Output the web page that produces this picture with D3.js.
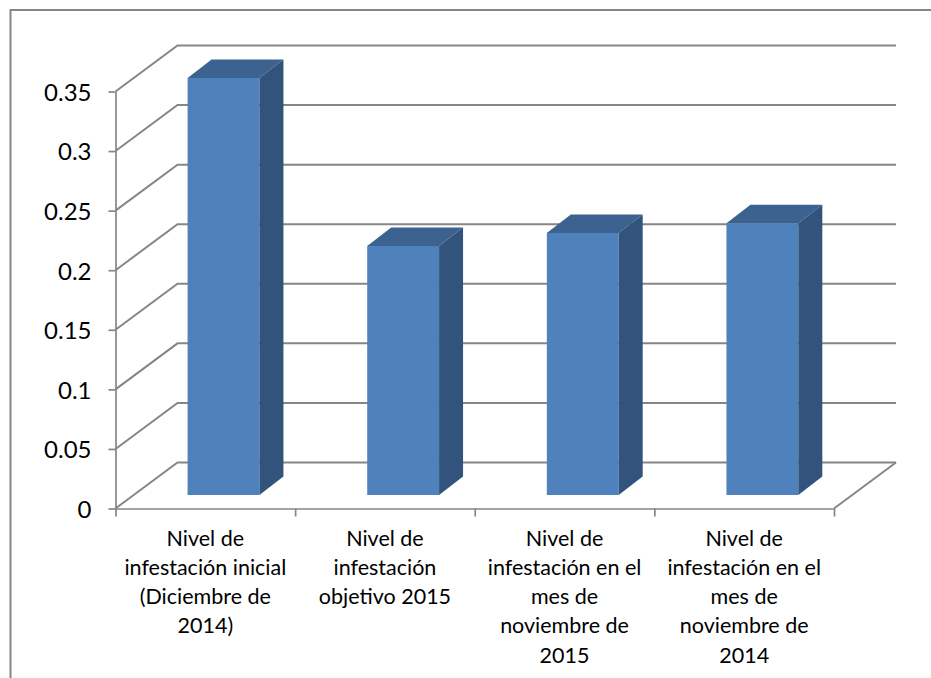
<!DOCTYPE html>
<html>
<head>
<meta charset="utf-8">
<script src="https://cdnjs.cloudflare.com/ajax/libs/d3/7.8.5/d3.min.js"></script>
<style>
  html, body { margin: 0; padding: 0; background: #fff; }
  svg { display: block; }
  text { font-family: Lato, "Open Sans", sans-serif; fill: #000; }
  .axis path, .axis line { stroke: #868686; stroke-width: 1.7; }
</style>
</head>
<body>
<svg id="chart" width="931" height="678"></svg>
<script>
// data
let categories = ["inicial", "objetivo", "nov2015", "nov2014"];
let values = [0.35, 0.209, 0.22, 0.228];
let tickValues = [0, 0.05, 0.1, 0.15, 0.2, 0.25, 0.3, 0.35];
let tickLabels = ["0", "0.05", "0.1", "0.15", "0.2", "0.25", "0.3", "0.35"];
let categoryLabels = [
  ["Nivel de", "infestación inicial", "(Diciembre de", "2014)"],
  ["Nivel de", "infestación", "objetivo 2015"],
  ["Nivel de", "infestación en el", "mes de", "noviembre de", "2015"],
  ["Nivel de", "infestación en el", "mes de", "noviembre de", "2014"]
];

// layout of the 3d box
let x0 = 115.5, x1 = 834, y0 = 508.5, yTop = 91.5;
let depthX = 62, depthY = 46;       // floor depth
let barDX = 24, barDY = 18.5;       // bar depth
let barLift = 13.5;                 // bar front above the front axis
let barShift = barLift * depthX / depthY;

let svg = d3.select("#chart");

// frame, runs off the picture on the right and at the bottom
svg.append("rect")
  .attr("x", 10.5).attr("y", 10).attr("width", 1000).attr("height", 1000)
  .attr("fill", "none").attr("stroke", "#868686").attr("stroke-width", 2);

let y = d3.scaleLinear().domain([0, 0.35]).range([y0, yTop]);
let x = d3.scaleBand().domain(categories).range([x0, x1]).paddingInner(0).paddingOuter(0);
let barWidth = x.bandwidth() / 2.5;

// walls
let grid = svg.append("g").attr("fill", "none").attr("stroke", "#868686").attr("stroke-width", 2);
grid.selectAll("path").data(tickValues).join("path")
  .attr("d", function (d) {
    let p = d3.path();
    p.moveTo(x0, y(d));
    p.lineTo(x0 + depthX, y(d) - depthY);
    p.lineTo(x1 + depthX, y(d) - depthY);
    return p.toString();
  });
// right edge of the floor
grid.append("line")
  .attr("x1", x1).attr("y1", y0)
  .attr("x2", x1 + depthX).attr("y2", y0 - depthY);

// axes
let yAxis = d3.axisLeft(y).tickValues(tickValues).tickSize(7).tickSizeOuter(0)
  .tickFormat(function (d, i) { return tickLabels[i]; });
let gy = svg.append("g").attr("class", "axis").attr("transform", "translate(" + x0 + ",0)").call(yAxis);
gy.selectAll("text").attr("x", -24).attr("dy", "0.37em").style("font-size", "24px");

let xTicks = d3.range(categories.length + 1).map(function (i) { return x0 + i * x.step(); });
let xAxis = d3.axisBottom(d3.scaleLinear().domain([x0, x1]).range([x0, x1]))
  .tickValues(xTicks).tickSize(8).tickSizeOuter(0).tickFormat("");
svg.append("g").attr("class", "axis").attr("transform", "translate(0," + y0 + ")").call(xAxis);

// bars
let bars = svg.append("g").selectAll("g").data(values).join("g");
function barLeft(i) {
  return x(categories[i]) + barShift + (x.bandwidth() - barWidth) / 2;
}
function barTop(d) { return y(d) - barLift; }
let barBottom = y(0) - barLift;

bars.append("rect")
  .attr("x", function (d, i) { return barLeft(i); })
  .attr("y", barTop)
  .attr("width", barWidth)
  .attr("height", function (d) { return barBottom - barTop(d); })
  .attr("fill", "#4F81BD");
bars.append("path")
  .attr("fill", "#3C6390")
  .attr("d", function (d, i) {
    let l = barLeft(i), t = barTop(d);
    return "M" + [l, t] + "L" + [l + barDX, t - barDY] + "L" + [l + barWidth + barDX, t - barDY] + "L" + [l + barWidth, t] + "Z";
  });
bars.append("path")
  .attr("fill", "#32547C")
  .attr("d", function (d, i) {
    let r = barLeft(i) + barWidth, t = barTop(d);
    return "M" + [r, t] + "L" + [r + barDX, t - barDY] + "L" + [r + barDX, barBottom - barDY] + "L" + [r, barBottom] + "Z";
  });

// category labels
let labels = svg.append("g").selectAll("text").data(categoryLabels).join("text")
  .attr("text-anchor", "middle")
  .style("font-size", "21.5px");
labels.selectAll("tspan").data(function (d, i) {
    return d.map(function (t) { return { t: t, i: i }; });
  }).join("tspan")
  .attr("x", function (d) { return x(categories[d.i]) + x.bandwidth() / 2; })
  .attr("y", function (d, j) { return 545.5 + j * 29.3; })
  .text(function (d) { return d.t; });
</script>
</body>
</html>
